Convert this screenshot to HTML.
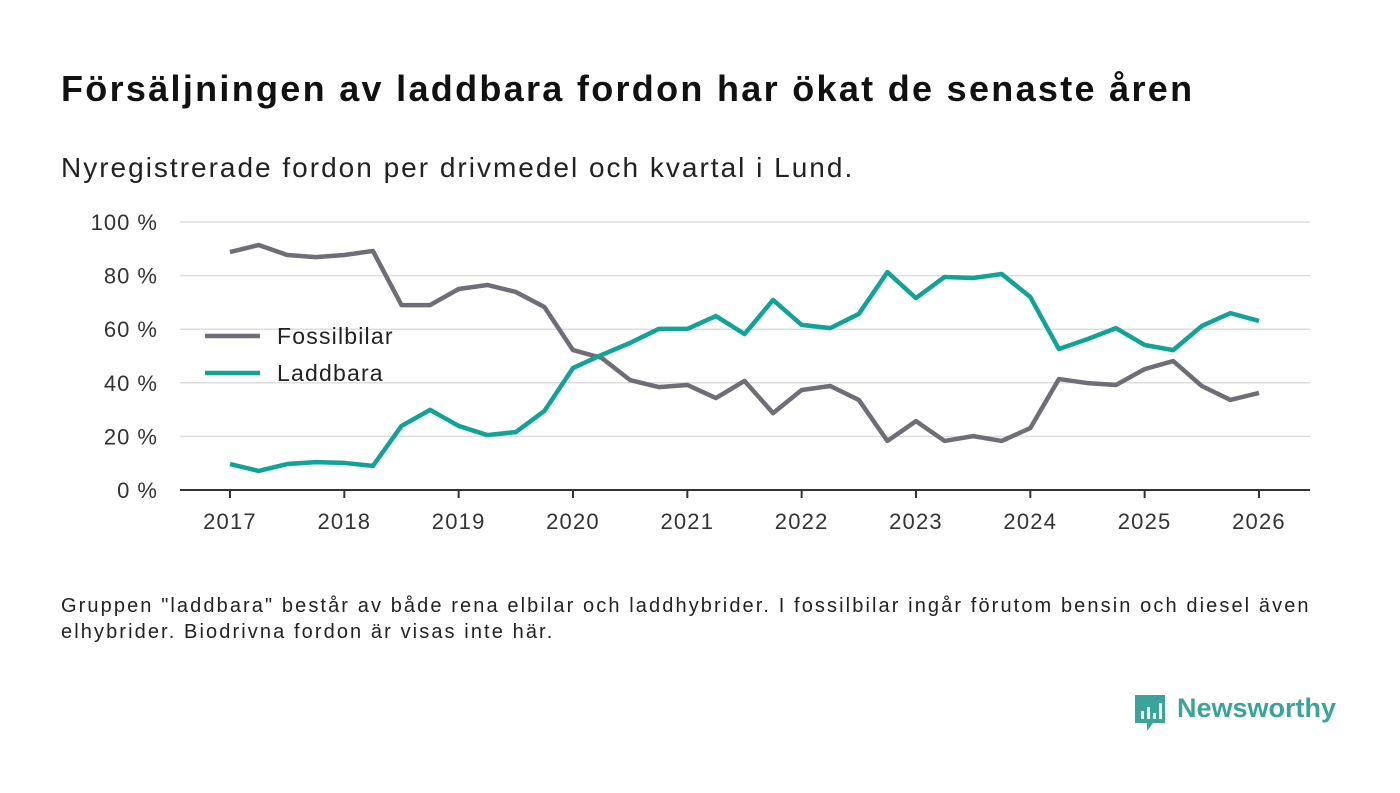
<!DOCTYPE html>
<html><head><meta charset="utf-8"><style>
body{margin:0;width:1400px;height:793px;background:#fff;font-family:"Liberation Sans","DejaVu Sans",sans-serif;overflow:hidden;position:relative}
.t{position:absolute;left:61px;top:68px;font-size:36px;letter-spacing:2.3px;font-weight:bold;color:#111;white-space:nowrap}
.s{position:absolute;left:61px;top:152px;font-size:28px;letter-spacing:2px;color:#222;white-space:nowrap}
.n{position:absolute;left:61px;top:593px;font-size:20px;letter-spacing:2.1px;line-height:26px;color:#222;width:1340px;white-space:nowrap}
</style></head><body>
<div class="t">Försäljningen av laddbara fordon har ökat de senaste åren</div>
<div class="s">Nyregistrerade fordon per drivmedel och kvartal i Lund.</div>
<svg id="c" width="1400" height="793" style="position:absolute;left:0;top:0"></svg>
<div class="n">Gruppen "laddbara" består av både rena elbilar och laddhybrider. I fossilbilar ingår förutom bensin och diesel även<br>elhybrider. Biodrivna fordon är visas inte här.</div>
<div style="position:absolute;left:1133px;top:693px">
<svg width="34" height="40"><path d="M2 2h30v28H20l-6 8v-8H2z" fill="#3aa39a"/><rect x="8" y="18" width="3" height="8" fill="#fff"/><rect x="14" y="14" width="3" height="12" fill="#fff"/><rect x="20" y="20" width="3" height="6" fill="#fff"/><rect x="26" y="10" width="3" height="16" fill="#fff"/></svg>
<span style="position:absolute;left:44px;top:0px;font-size:27px;font-weight:bold;color:#3aa39a;white-space:nowrap">Newsworthy</span></div>
<script>
const years=[2017,2018,2019,2020,2021,2022,2023,2024,2025,2026];
const yTicks=[0,20,40,60,80,100];
const fossil=[88.8,91.4,87.7,86.9,87.7,89.2,69,69,75,76.5,73.9,68.3,52.2,49.3,41,38.4,39.2,34.3,40.7,28.7,37.3,38.8,33.6,18.3,25.7,18.3,20.1,18.3,23.1,41.4,39.9,39.2,45.1,48.1,38.8,33.6,36.2];
const laddbara=[9.7,7.1,9.7,10.4,10.1,9,23.9,29.9,23.9,20.5,21.6,29.5,45.5,50.4,54.9,60.1,60.1,64.9,58.2,70.9,61.6,60.4,65.7,81.3,71.6,79.5,79.1,80.6,72,52.6,56.3,60.4,54.1,52.2,61.2,66,63.1];
const svg=document.getElementById('c');const NS='http://www.w3.org/2000/svg';
const X=t=>230+(t-2017)*114.33, Y=v=>490-v*2.68;
function mk(tag,a,txt){const e=document.createElementNS(NS,tag);for(const k in a)e.setAttribute(k,a[k]);if(txt!==undefined)e.textContent=txt;svg.appendChild(e);return e;}
yTicks.forEach(v=>{
 const g=mk('line',{x1:180,x2:1310,y1:Y(v),y2:Y(v),stroke:v?'#ddd':'#333','stroke-width':v?1.5:2});
 
 
 const t=mk('text',{x:158,y:Y(v)+8,'text-anchor':'end','font-size':22,'letter-spacing':1,fill:'#333'},v+' %');
 
 
});
years.forEach(y=>{
 const l=mk('line',{x1:X(y),x2:X(y),y1:490,y2:498,stroke:'#333','stroke-width':2});
 
 
 const t=mk('text',{x:X(y),y:529,'text-anchor':'middle','font-size':22,'letter-spacing':1.2,fill:'#333'},y);
 
 
});
function line(d,col,name){
 const p=d.map((v,i)=>(i?'L':'M')+X(2017+i/4)+' '+Y(v)).join('');
 const e=mk('path',{d:p,fill:'none',stroke:col,'stroke-width':4.5,'stroke-linejoin':'round'});
 
 
}
line(fossil,'#6f6e76','fossilbilar-line');
line(laddbara,'#10a396','laddbara-line');
[['Fossilbilar','#6f6e76',336],['Laddbara','#10a396',373]].forEach(([n,c,y])=>{
 const l=mk('line',{x1:205,x2:260,y1:y,y2:y,stroke:c,'stroke-width':4.5});
 
 
 const t=mk('text',{x:277,y:y+8,'font-size':23,'letter-spacing':1.2,fill:'#222'},n);
 
 
});
</script>
</body></html>
